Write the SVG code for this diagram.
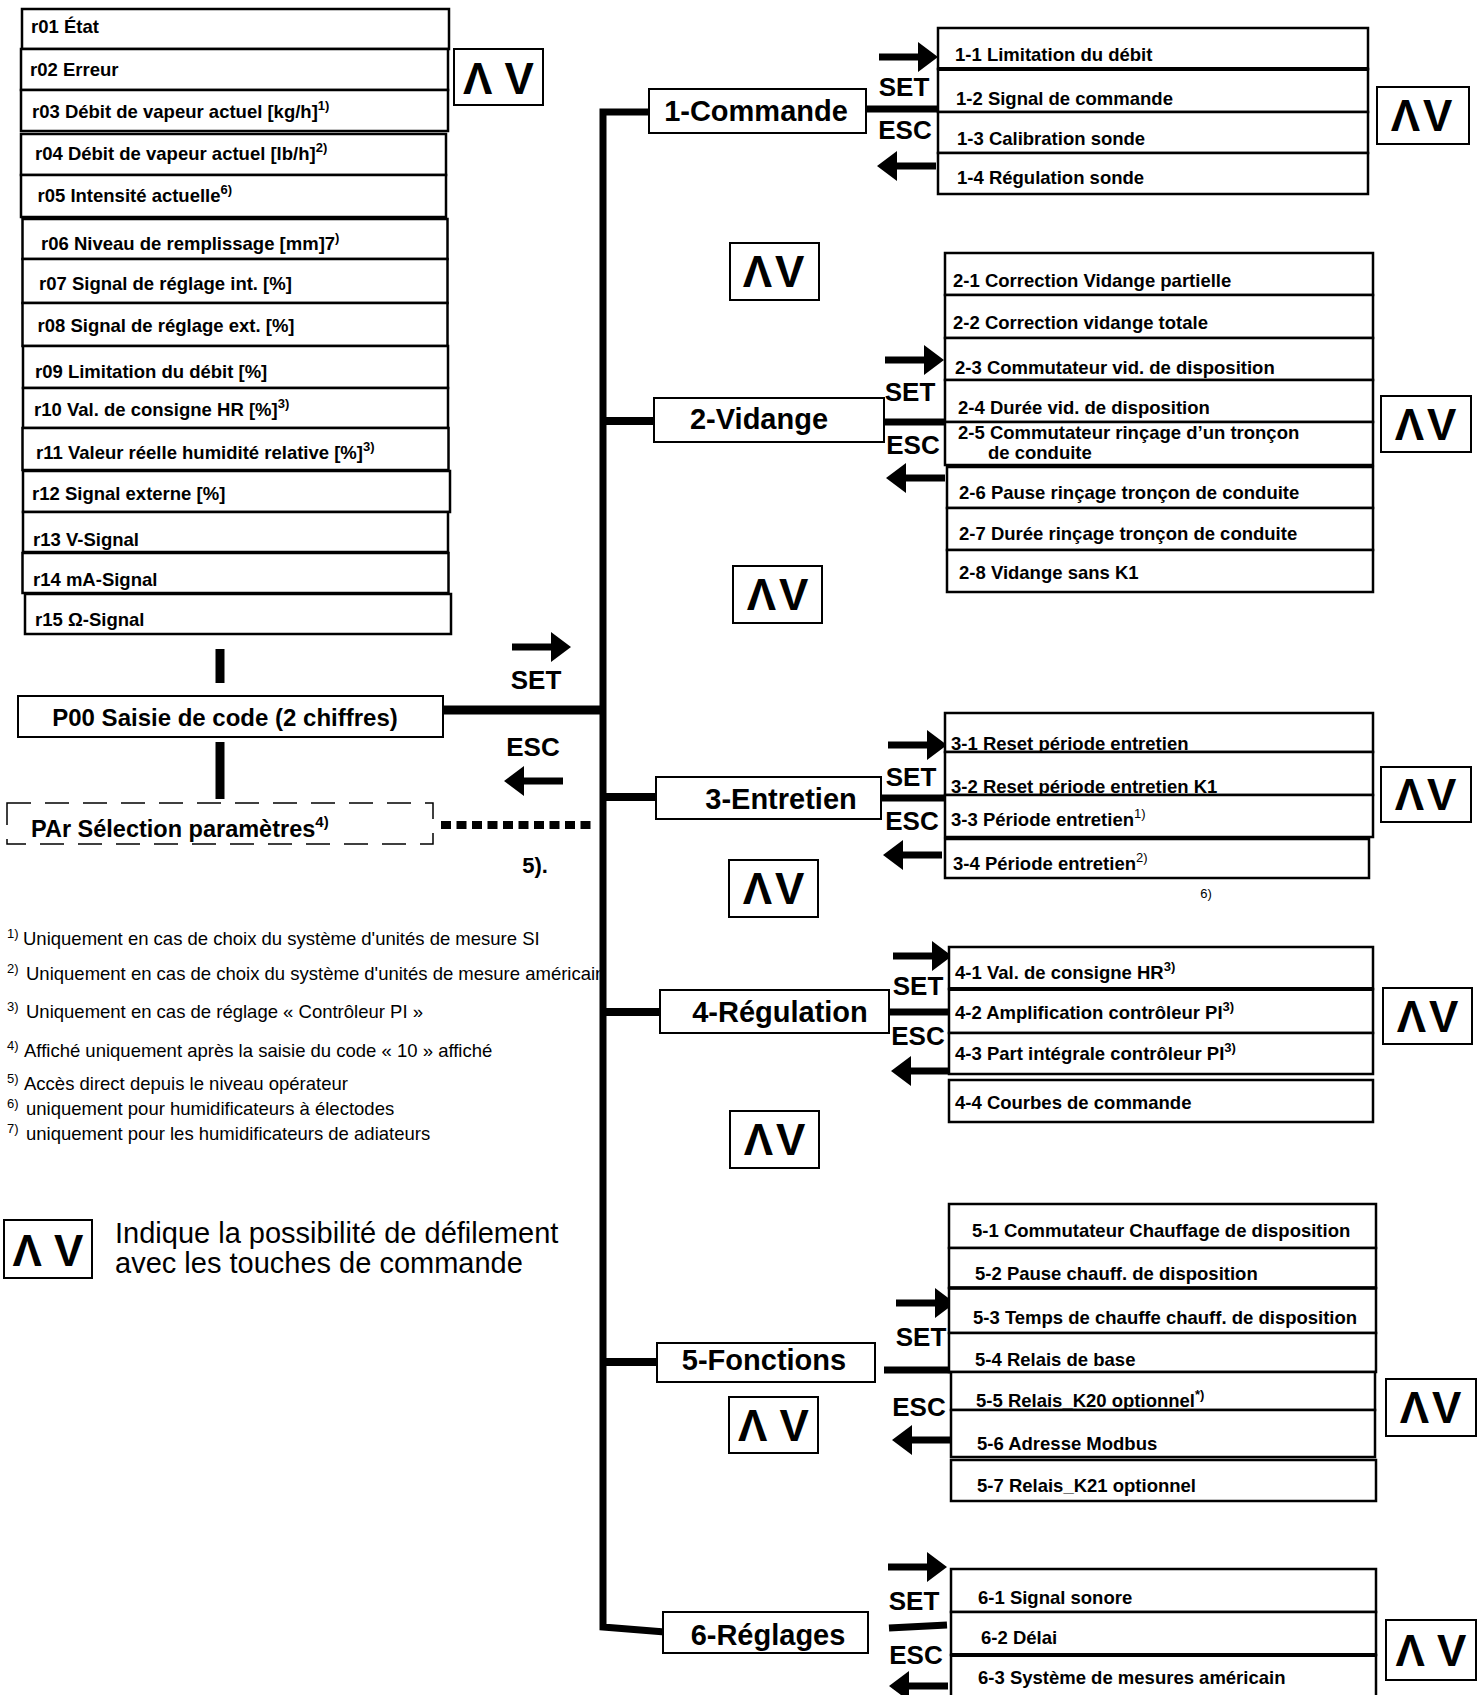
<svg xmlns="http://www.w3.org/2000/svg" xmlns:xlink="http://www.w3.org/1999/xlink" width="1478" height="1695" viewBox="0 0 1478 1695">
<style>
text{font-family:"Liberation Sans",Arial,sans-serif;fill:#000}
.box{fill:#fff;stroke:#000;stroke-width:2.5}
.mbox{fill:#fff;stroke:#000;stroke-width:2}
.t{font-weight:bold;font-size:18.5px}
.main{font-weight:bold;font-size:29px;text-anchor:middle}
.key{font-weight:bold;font-size:26px;text-anchor:middle}
.av{font-weight:bold;font-size:44px;text-anchor:middle}
.fn{font-size:18.5px}
.sup{font-size:13px}
.wire{stroke:#000;fill:none}
</style>
<defs>
<path id="arrR" d="M0,-3.5 H39 V-15 L59,0 L39,15 V3.5 H0 Z"/>
<path id="arrL" d="M59,-3.5 H20 V-15 L0,0 L20,15 V3.5 H59 Z"/>
<clipPath id="fn2clip"><rect x="0" y="955" width="600" height="40"/></clipPath>
</defs>
<rect width="1478" height="1695" fill="#fff"/>

<!-- Left r-list -->
<g id="r01"><rect class="box" x="22" y="9" width="427" height="40"/><text class="t" x="31" y="32.5">r01 État</text></g>
<g id="r02"><rect class="box" x="21" y="49" width="427" height="41"/><text class="t" x="30" y="75.5">r02 Erreur</text></g>
<g id="r03"><rect class="box" x="21" y="90" width="427" height="41"/><text class="t" x="32" y="117.5">r03 Débit de vapeur actuel [kg/h]<tspan class="sup" dy="-8">1)</tspan></text></g>
<g id="r04"><rect class="box" x="21" y="134" width="425" height="41"/><text class="t" x="35" y="159.5">r04 Débit de vapeur actuel [lb/h]<tspan class="sup" dy="-8">2)</tspan></text></g>
<g id="r05"><rect class="box" x="21" y="175" width="425" height="42"/><text class="t" x="37.5" y="201.5">r05 Intensité actuelle<tspan class="sup" dy="-8">6)</tspan></text></g>
<g id="r06"><rect class="box" x="22.5" y="219" width="425" height="40"/><text class="t" x="41" y="249.5">r06 Niveau de remplissage [mm]7<tspan class="sup" dy="-8">)</tspan></text></g>
<g id="r07"><rect class="box" x="22.5" y="259" width="425" height="44"/><text class="t" x="39" y="289.5">r07 Signal de réglage int. [%]</text></g>
<g id="r08"><rect class="box" x="22.5" y="303" width="425" height="43"/><text class="t" x="37.5" y="331.5">r08 Signal de réglage ext. [%]</text></g>
<g id="r09"><rect class="box" x="23" y="346" width="425" height="42"/><text class="t" x="35" y="377.5">r09 Limitation du débit [%]</text></g>
<g id="r10"><rect class="box" x="23" y="388" width="425" height="40"/><text class="t" x="34" y="415.5">r10 Val. de consigne HR [%]<tspan class="sup" dy="-8">3)</tspan></text></g>
<g id="r11"><rect class="box" x="22.5" y="428" width="426" height="42"/><text class="t" x="36" y="458.5">r11 Valeur réelle humidité relative [%]<tspan class="sup" dy="-8">3)</tspan></text></g>
<g id="r12"><rect class="box" x="23" y="471" width="427" height="41"/><text class="t" x="32" y="499.5">r12 Signal externe [%]</text></g>
<g id="r13"><rect class="box" x="23" y="512" width="425" height="40"/><text class="t" x="33" y="545.5">r13 V-Signal</text></g>
<g id="r14"><rect class="box" x="22.5" y="553" width="426" height="40"/><text class="t" x="33" y="585.5">r14 mA-Signal</text></g>
<g id="r15"><rect class="box" x="25" y="594" width="426" height="40"/><text class="t" x="35" y="625.5">r15 Ω-Signal</text></g>

<!-- AV scroll boxes -->
<g id="av1"><rect class="mbox" x="454" y="49" width="89" height="56"/><text class="av" x="498.5" y="94" font-size="50">Λ V</text></g>
<g id="av2"><rect class="mbox" x="1377" y="87" width="92" height="57"/><text class="av" x="1423" y="131" letter-spacing="3">ΛV</text></g>
<g id="av3"><rect class="mbox" x="730" y="243" width="89" height="57"/><text class="av" x="775" y="287" letter-spacing="3">ΛV</text></g>
<g id="av4"><rect class="mbox" x="1381" y="396" width="90" height="56"/><text class="av" x="1427" y="440" letter-spacing="3">ΛV</text></g>
<g id="av5"><rect class="mbox" x="733" y="566" width="89" height="57"/><text class="av" x="779" y="610" letter-spacing="3">ΛV</text></g>
<g id="av6"><rect class="mbox" x="1381" y="767" width="90" height="55"/><text class="av" x="1427" y="810" letter-spacing="3">ΛV</text></g>
<g id="av7"><rect class="mbox" x="729" y="860" width="89" height="57"/><text class="av" x="775" y="904" letter-spacing="3">ΛV</text></g>
<g id="av8"><rect class="mbox" x="1383" y="988" width="89" height="56"/><text class="av" x="1429" y="1032" letter-spacing="3">ΛV</text></g>
<g id="av9"><rect class="mbox" x="730" y="1111" width="89" height="57"/><text class="av" x="776" y="1155" letter-spacing="3">ΛV</text></g>
<g id="av10"><rect class="mbox" x="729" y="1397" width="89" height="56"/><text class="av" x="773.5" y="1441">Λ V</text></g>
<g id="av11"><rect class="mbox" x="1386" y="1379" width="90" height="57"/><text class="av" x="1432" y="1423" letter-spacing="3">ΛV</text></g>
<g id="av12"><rect class="mbox" x="1386" y="1620" width="90" height="60"/><text class="av" x="1431" y="1666">Λ V</text></g>
<g id="av-legend"><rect class="mbox" x="4" y="1220" width="88" height="58"/><text class="av" x="48" y="1266">Λ V</text></g>

<!-- Connectors -->
<g id="connectors">
<path class="wire" stroke-width="7" d="M649,112 H603 V1627 L665,1632"/>
<line class="wire" stroke-width="8" x1="603" y1="421" x2="654" y2="421"/>
<line class="wire" stroke-width="8" x1="603" y1="797" x2="656" y2="797"/>
<line class="wire" stroke-width="8" x1="603" y1="1012" x2="660" y2="1012"/>
<line class="wire" stroke-width="8" x1="603" y1="1362" x2="657" y2="1362"/>
<line class="wire" stroke-width="9" x1="443" y1="710" x2="603" y2="710"/>
<line class="wire" stroke-width="9" x1="220" y1="649" x2="220" y2="683"/>
<line class="wire" stroke-width="9" x1="220" y1="742" x2="220" y2="799"/>
<line class="wire" stroke-width="8" stroke-dasharray="10 5.5" x1="441" y1="825" x2="596" y2="825"/>
<line class="wire" stroke-width="7" x1="866" y1="109" x2="940" y2="109"/>
<line class="wire" stroke-width="7" x1="884" y1="422" x2="947" y2="422"/>
<line class="wire" stroke-width="7" x1="881" y1="798" x2="947" y2="798"/>
<line class="wire" stroke-width="7" x1="889" y1="1012" x2="949" y2="1012"/>
<line class="wire" stroke-width="7" x1="884" y1="1370" x2="952" y2="1370"/>
<line class="wire" stroke-width="7" x1="889" y1="1628" x2="947" y2="1625"/>
<use xlink:href="#arrR" transform="translate(512,647)"/>
<use xlink:href="#arrL" transform="translate(504,781)"/>
<use xlink:href="#arrR" transform="translate(879,57)"/>
<use xlink:href="#arrL" transform="translate(877,166)"/>
<use xlink:href="#arrR" transform="translate(885,360)"/>
<use xlink:href="#arrL" transform="translate(886,478)"/>
<use xlink:href="#arrR" transform="translate(888,745)"/>
<use xlink:href="#arrL" transform="translate(883,855)"/>
<use xlink:href="#arrR" transform="translate(893,956)"/>
<use xlink:href="#arrL" transform="translate(891,1071)"/>
<use xlink:href="#arrR" transform="translate(896,1303)"/>
<use xlink:href="#arrL" transform="translate(892,1440)"/>
<use xlink:href="#arrR" transform="translate(888,1567)"/>
<use xlink:href="#arrL" transform="translate(889,1686)"/>
<text class="key" x="536" y="689" font-size="28">SET</text>
<text class="key" x="533" y="756" font-size="28">ESC</text>
<text class="key" x="904" y="96">SET</text>
<text class="key" x="905" y="139">ESC</text>
<text class="key" x="910" y="401">SET</text>
<text class="key" x="913" y="454">ESC</text>
<text class="key" x="911" y="786">SET</text>
<text class="key" x="912" y="830">ESC</text>
<text class="key" x="918" y="995">SET</text>
<text class="key" x="918" y="1045">ESC</text>
<text class="key" x="921" y="1346">SET</text>
<text class="key" x="919" y="1416">ESC</text>
<text class="key" x="914" y="1610">SET</text>
<text class="key" x="916" y="1664">ESC</text>
<text x="535" y="873" font-weight="bold" font-size="22" text-anchor="middle">5).</text>
</g>

<!-- P00 and PAr -->
<g id="p00"><rect class="mbox" x="18" y="696" width="425" height="41"/><text x="225" y="725.5" font-weight="bold" font-size="24" text-anchor="middle">P00 Saisie de code (2 chiffres)</text></g>
<g id="par"><rect x="7" y="803" width="426" height="41" fill="none" stroke="#000" stroke-width="1.5" stroke-dasharray="24 14"/><text x="31" y="837" font-weight="bold" font-size="23.5">PAr Sélection paramètres<tspan font-size="15" dy="-10">4)</tspan></text></g>

<!-- Main categories -->
<g id="cat1"><rect class="mbox" x="649" y="89" width="217" height="44"/><text class="main" x="756" y="120.5">1-Commande</text></g>
<g id="cat2"><rect class="mbox" x="654" y="398" width="230" height="44"/><text class="main" x="759" y="428.5">2-Vidange</text></g>
<g id="cat3"><rect class="mbox" x="656" y="777" width="225" height="42"/><text class="main" x="781" y="808.5">3-Entretien</text></g>
<g id="cat4"><rect class="mbox" x="660" y="990" width="229" height="43"/><text class="main" x="780" y="1021.5" font-size="28.5">4-Régulation</text></g>
<g id="cat5"><rect class="mbox" x="657" y="1343" width="218" height="39"/><text class="main" x="764" y="1370" font-size="27.5">5-Fonctions</text></g>
<g id="cat6"><rect class="mbox" x="663" y="1612" width="205" height="41"/><text class="main" x="768" y="1645">6-Réglages</text></g>

<!-- Group 1 -->
<g id="s1-1"><rect class="box" x="938" y="28" width="430" height="41"/><text class="t" x="955" y="60.5">1-1 Limitation du débit</text></g>
<g id="s1-2"><rect class="box" x="938" y="69" width="430" height="43"/><text class="t" x="956" y="104.5">1-2 Signal de commande</text></g>
<g id="s1-3"><rect class="box" x="938" y="112" width="430" height="41"/><text class="t" x="957" y="144.5">1-3 Calibration sonde</text></g>
<g id="s1-4"><rect class="box" x="938" y="153" width="430" height="41"/><text class="t" x="957" y="183.5">1-4 Régulation sonde</text></g>
<line x1="938" y1="69" x2="1368" y2="69" stroke="#000" stroke-width="4"/>

<!-- Group 2 -->
<g id="s2-1"><rect class="box" x="945" y="253" width="428" height="42"/><text class="t" x="953" y="286.5">2-1 Correction Vidange partielle</text></g>
<g id="s2-2"><rect class="box" x="945" y="295" width="428" height="43"/><text class="t" x="953" y="328.5">2-2 Correction vidange totale</text></g>
<g id="s2-3"><rect class="box" x="945" y="338" width="428" height="42"/><text class="t" x="955" y="373.5">2-3 Commutateur vid. de disposition</text></g>
<g id="s2-4"><rect class="box" x="945" y="380" width="428" height="42"/><text class="t" x="958" y="413.5">2-4 Durée vid. de disposition</text></g>
<g id="s2-5"><rect class="box" x="945" y="422" width="428" height="43"/><text class="t" x="958" y="438.5">2-5 Commutateur rinçage d’un tronçon</text><text class="t" x="988" y="458.5">de conduite</text></g>
<g id="s2-6"><rect class="box" x="947" y="467" width="426" height="41"/><text class="t" x="959" y="498.5">2-6 Pause rinçage tronçon de conduite</text></g>
<g id="s2-7"><rect class="box" x="947" y="508" width="426" height="42"/><text class="t" x="959" y="539.5">2-7 Durée rinçage tronçon de conduite</text></g>
<g id="s2-8"><rect class="box" x="947" y="550" width="426" height="42"/><text class="t" x="959" y="578.5">2-8 Vidange sans K1</text></g>

<!-- Group 3 -->
<g id="s3-1"><rect class="box" x="945" y="713" width="428" height="39"/><text class="t" x="951" y="749.5">3-1 Reset période entretien</text></g>
<g id="s3-2"><rect class="box" x="945" y="752" width="428" height="43"/><text class="t" x="951" y="792.5">3-2 Reset période entretien K1</text></g>
<g id="s3-3"><rect class="box" x="945" y="795" width="428" height="42"/><text class="t" x="951" y="825.5">3-3 Période entretien<tspan class="sup" dy="-8" font-weight="normal">1)</tspan></text></g>
<g id="s3-4"><rect class="box" x="945" y="839" width="424" height="39"/><text class="t" x="953" y="869.5">3-4 Période entretien<tspan class="sup" dy="-8" font-weight="normal">2)</tspan></text></g>
<text x="1206" y="898" font-size="13" text-anchor="middle">6)</text>

<!-- Group 4 -->
<g id="s4-1"><rect class="box" x="949" y="947" width="424" height="42"/><text class="t" x="955" y="978.5">4-1 Val. de consigne HR<tspan class="sup" dy="-8">3)</tspan></text></g>
<g id="s4-2"><rect class="box" x="949" y="989" width="424" height="44"/><text class="t" x="955" y="1018.5">4-2 Amplification contrôleur PI<tspan class="sup" dy="-8">3)</tspan></text></g>
<g id="s4-3"><rect class="box" x="949" y="1033" width="424" height="41"/><text class="t" x="955" y="1059.5">4-3 Part intégrale contrôleur PI<tspan class="sup" dy="-8">3)</tspan></text></g>
<g id="s4-4"><rect class="box" x="949" y="1080" width="424" height="42"/><text class="t" x="955" y="1108.5">4-4 Courbes de commande</text></g>
<line x1="949" y1="989" x2="1373" y2="989" stroke="#000" stroke-width="4"/>

<!-- Group 5 -->
<g id="s5-1"><rect class="box" x="949" y="1204" width="427" height="44"/><text class="t" x="972" y="1236.5">5-1 Commutateur Chauffage de disposition</text></g>
<g id="s5-2"><rect class="box" x="949" y="1248" width="427" height="40"/><text class="t" x="975" y="1279.5">5-2 Pause chauff. de disposition</text></g>
<g id="s5-3"><rect class="box" x="949" y="1288" width="427" height="45"/><text class="t" x="973" y="1323.5">5-3 Temps de chauffe chauff. de disposition</text></g>
<g id="s5-4"><rect class="box" x="949" y="1333" width="427" height="39"/><text class="t" x="975" y="1365.5">5-4 Relais de base</text></g>
<g id="s5-5"><rect class="box" x="951" y="1372" width="424" height="38"/><text class="t" x="976" y="1406.5">5-5 Relais_K20 optionnel<tspan class="sup" dy="-8">*)</tspan></text></g>
<g id="s5-6"><rect class="box" x="951" y="1410" width="424" height="47"/><text class="t" x="977" y="1449.5">5-6 Adresse Modbus</text></g>
<g id="s5-7"><rect class="box" x="951" y="1460" width="425" height="41"/><text class="t" x="977" y="1491.5">5-7 Relais_K21 optionnel</text></g>
<line x1="949" y1="1288" x2="1376" y2="1288" stroke="#000" stroke-width="3.5"/>

<!-- Group 6 -->
<g id="s6-1"><rect class="box" x="951" y="1569" width="425" height="43"/><text class="t" x="978" y="1603.5">6-1 Signal sonore</text></g>
<g id="s6-2"><rect class="box" x="951" y="1612" width="425" height="43"/><text class="t" x="981" y="1643.5">6-2 Délai</text></g>
<g id="s6-3"><rect class="box" x="951" y="1655" width="425" height="45"/><text class="t" x="978" y="1683.5">6-3 Système de mesures américain</text></g>
<line x1="951" y1="1655" x2="1376" y2="1655" stroke="#000" stroke-width="4"/>

<!-- Footnotes -->
<g id="footnotes">
<text class="fn" x="7" y="945"><tspan class="sup" dy="-7">1)</tspan><tspan x="23" dy="7">Uniquement en cas de choix du système d'unités de mesure SI</tspan></text>
<text class="fn" x="7" y="980" clip-path="url(#fn2clip)"><tspan class="sup" dy="-7">2)</tspan><tspan x="26" dy="7">Uniquement en cas de choix du système d'unités de mesure américain</tspan></text>
<text class="fn" x="7" y="1018"><tspan class="sup" dy="-7">3)</tspan><tspan x="26" dy="7">Uniquement en cas de réglage « Contrôleur PI »</tspan></text>
<text class="fn" x="7" y="1057"><tspan class="sup" dy="-7">4)</tspan><tspan x="24" dy="7">Affiché uniquement après la saisie du code « 10 » affiché</tspan></text>
<text class="fn" x="7" y="1090"><tspan class="sup" dy="-7">5)</tspan><tspan x="24" dy="7">Accès direct depuis le niveau opérateur</tspan></text>
<text class="fn" x="7" y="1115"><tspan class="sup" dy="-7">6)</tspan><tspan x="26" dy="7">uniquement pour humidificateurs à électodes</tspan></text>
<text class="fn" x="7" y="1140"><tspan class="sup" dy="-7">7)</tspan><tspan x="26" dy="7">uniquement pour les humidificateurs de adiateurs</tspan></text>
</g>

<!-- Legend -->
<g id="legend">
<text x="115" y="1243" font-size="29">Indique la possibilité de défilement</text>
<text x="115" y="1273" font-size="29">avec les touches de commande</text>
</g>
</svg>
